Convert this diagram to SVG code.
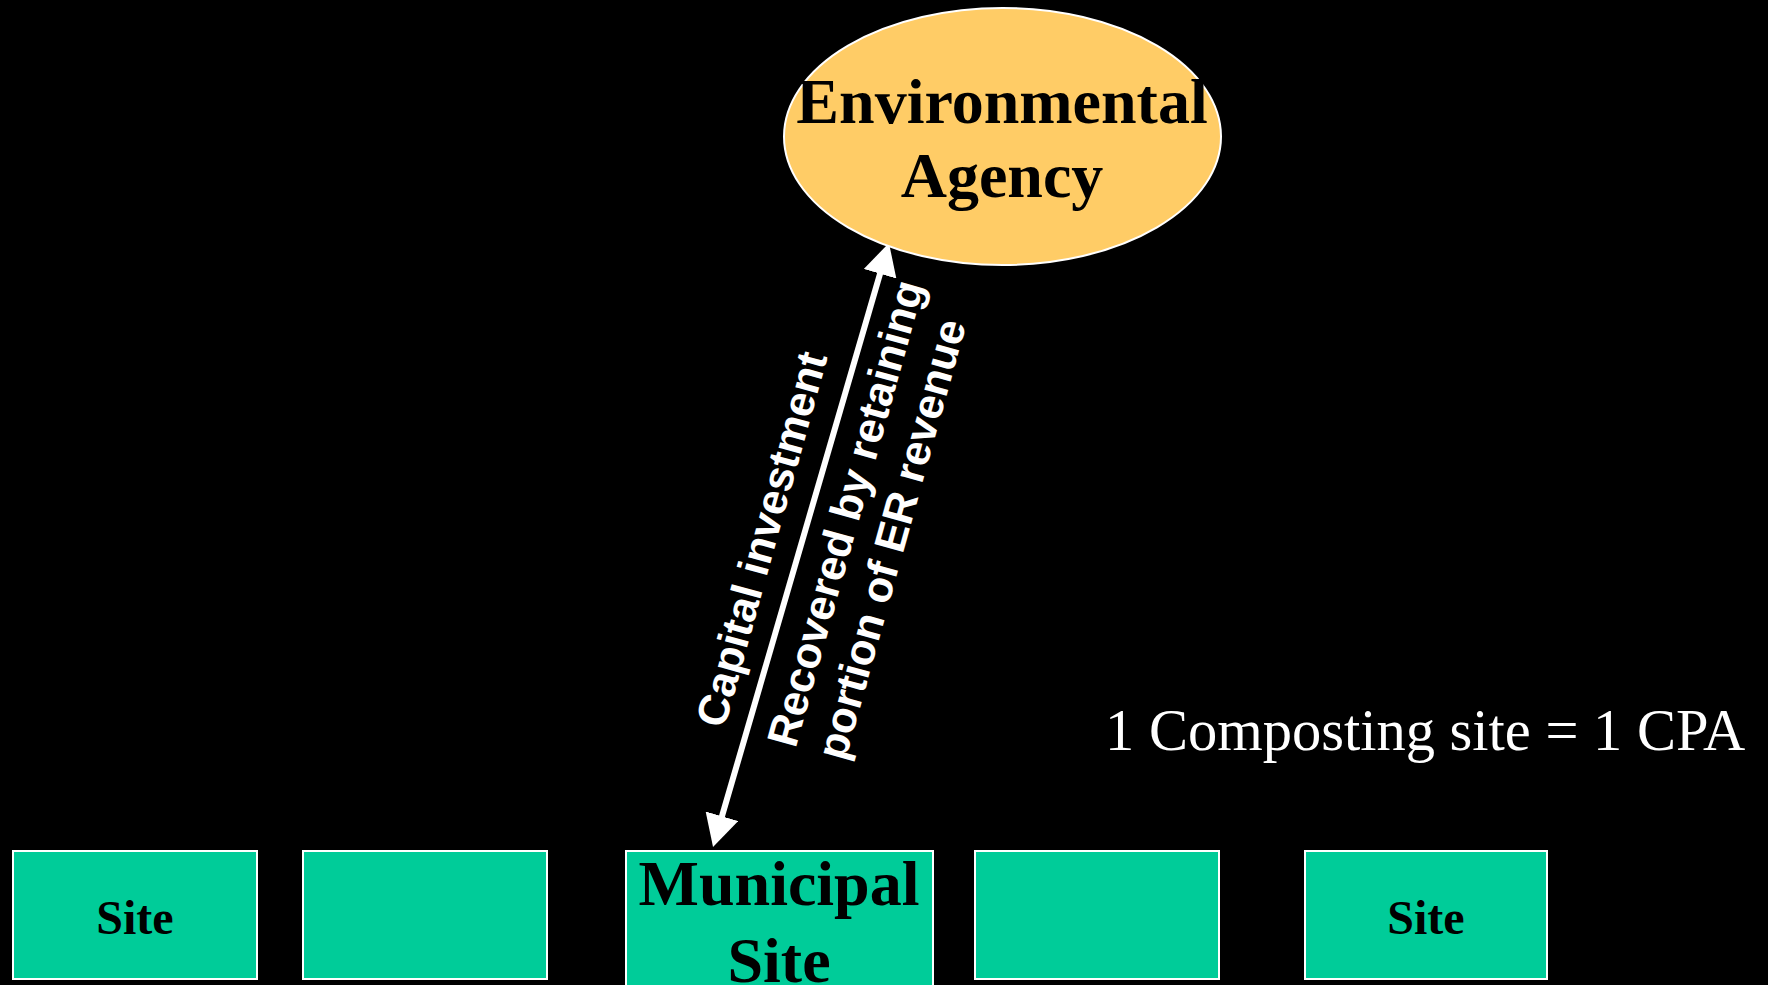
<svg xmlns="http://www.w3.org/2000/svg" width="1768" height="985" viewBox="0 0 1768 985">
<style>
.bg{fill:#000000}
.site{fill:#00CC99;stroke:#FFFFFF;stroke-width:2}
.agency{fill:#FFCC66;stroke:#FFFFFF;stroke-width:2}
.ttl{font-family:"Liberation Serif","Times New Roman",serif;font-weight:bold;fill:#000000;text-anchor:middle}
.lbl{font-family:"Liberation Sans",Arial,sans-serif;font-weight:bold;font-size:43.5px;fill:#FFFFFF}
.note{font-family:"Liberation Serif","Times New Roman",serif;font-size:58.5px;fill:#FFFFFF}
.conn{stroke:#FFFFFF;stroke-width:6;fill:none}
</style>
<defs>
<marker id="ah" markerUnits="userSpaceOnUse" markerWidth="32" markerHeight="34" refX="1" refY="17" orient="auto-start-reverse" viewBox="0 0 32 34">
<path d="M0,0 L32,17 L0,34 z" fill="#FFFFFF"/>
</marker>
</defs>
<rect class="bg" x="0" y="0" width="1768" height="985"/>
<g id="connectors">
<line class="conn" x1="721.7" y1="817.2" x2="880.3" y2="272.8" marker-start="url(#ah)" marker-end="url(#ah)"/>
<text class="lbl" transform="translate(724.3,729.4) rotate(-74.5)">Capital investment</text>
<text class="lbl" transform="translate(795.5,749) rotate(-74.5)">Recovered by retaining</text>
<text class="lbl" transform="translate(845,762) rotate(-74.5)">portion of ER revenue</text>
</g>
<g id="agency">
<ellipse class="agency" cx="1002.5" cy="136.5" rx="218.5" ry="128.5"/>
<text class="ttl" x="1002" y="123" font-size="64">Environmental</text>
<text class="ttl" x="1002" y="197" font-size="64">Agency</text>
</g>
<g id="site1">
<rect class="site" x="13" y="851" width="244" height="128"/>
<text class="ttl" x="135" y="934" font-size="48">Site</text>
</g>
<g id="site2">
<rect class="site" x="303" y="851" width="244" height="128"/>
</g>
<g id="municipal">
<rect class="site" x="626" y="851" width="307" height="150"/>
<text class="ttl" x="779" y="905" font-size="64">Municipal</text>
<text class="ttl" x="779" y="982" font-size="64">Site</text>
</g>
<g id="site4">
<rect class="site" x="975" y="851" width="244" height="128"/>
</g>
<g id="site5">
<rect class="site" x="1305" y="851" width="242" height="128"/>
<text class="ttl" x="1426" y="934" font-size="48">Site</text>
</g>
<g id="note">
<text class="note" x="1105" y="750">1 Composting site = 1 CPA</text>
</g>
</svg>
